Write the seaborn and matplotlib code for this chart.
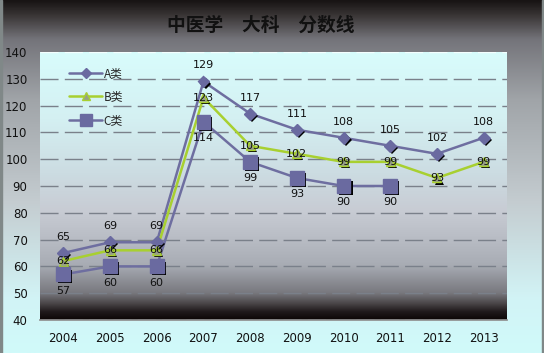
import numpy as np
import pandas as pd
import matplotlib
matplotlib.use("Agg")
import matplotlib.pyplot as plt
import matplotlib.patheffects as pe
from matplotlib.colors import LinearSegmentedColormap
import seaborn as sns

years = ["2004", "2005", "2006", "2007", "2008", "2009", "2010", "2011", "2012", "2013"]
a_vals = [65, 69, 69, 129, 117, 111, 108, 105, 102, 108]
b_vals = [62, 66, 66, 123, 105, 102, 99, 99, 93, 99]
c_vals = [57, 60, 60, 114, 99, 93, 90, 90, np.nan, np.nan]
series_names = ["A类", "B类", "C类"]
title = "中医学　大科　分数线"

sns.set_theme(style="white")
plt.rcParams['font.family'] = ['Noto Sans CJK SC', 'DejaVu Sans']

df = pd.DataFrame({
    "year": years * 3,
    "value": a_vals + b_vals + c_vals,
    "series": [series_names[0]] * 10 + [series_names[1]] * 10 + [series_names[2]] * 10,
})

fig = plt.figure(figsize=(5.44, 3.53), dpi=100)
grad = np.linspace(0, 1, 256).reshape(-1, 1)

# figure background gradient
bg = fig.add_axes([0, 0, 1, 1], zorder=-10)
bg_cmap = LinearSegmentedColormap.from_list("bg", [
    (0.0, "#d0fafa"), (0.15, "#d2f4f6"), (0.43, "#c4ccd0"), (0.72, "#a0a4a8"),
    (0.89, "#74747a"), (0.96, "#383434"), (1.0, "#181414")])
bg.imshow(grad, aspect="auto", cmap=bg_cmap, origin="lower", extent=[0, 1, 0, 1])
bg.set_xlim(0, 1)
bg.set_ylim(0, 1)
bg.set_axis_off()
bg.axvspan(0.0, 0.004, color="#808888")
bg.axvspan(0.996, 1.0, color="#808888")

pos = [40 / 544, 1 - 320 / 353, 467 / 544, 268 / 353]
pa = fig.add_axes(pos, zorder=-5)
pa_cmap = LinearSegmentedColormap.from_list("pa", [
    (0.0, "#0c0606"), (0.03, "#201a1c"), (0.06, "#4a4648"), (0.10, "#78787e"),
    (0.205, "#a8acb4"), (0.30, "#b8bcc4"), (0.41, "#c8ccd4"), (0.55, "#ccdce2"),
    (0.75, "#d4f0f2"), (1.0, "#d8fcfc")])
pa.imshow(grad, aspect="auto", cmap=pa_cmap, origin="lower", extent=[0, 1, 0, 1])
pa.set_xlim(0, 1)
pa.set_ylim(0, 1)
pa.set_axis_off()

ax = fig.add_axes(pos)
ax.set_facecolor("none")

palette = {"A类": "#6e6ea0", "B类": "#a8d030", "C类": "#6e6ea0"}
markers = {"A类": "D", "B类": "^", "C类": "s"}
sizes = {"A类": 6, "B类": 6.5, "C类": 10}
leg_sizes = {"A类": 5, "B类": 6, "C类": 8}
mface = {"A类": "#6a6aa0", "B类": "#98a088", "C类": "#6a6aa0"}
medge = {"A类": "#6a6aa0", "B类": "#a8d030", "C类": "#6a6aa0"}

sns.lineplot(data=df, x="year", y="value", hue="series", palette=palette,
             linewidth=1.8, ax=ax, legend=False, zorder=3)

shadow = [pe.SimplePatchShadow(offset=(1.5, -1.5), shadow_rgbFace="black", alpha=1.0), pe.Normal()]
handles = []
for name, vals in zip(series_names, [a_vals, b_vals, c_vals]):
    line, = ax.plot(years, vals, linestyle="none", marker=markers[name],
                    markersize=sizes[name], color=mface[name],
                    markeredgecolor=medge[name], zorder=4)
    line.set_path_effects(shadow)
    h, = ax.plot([], [], color=palette[name], linewidth=1.8, marker=markers[name],
                 markersize=leg_sizes[name],
                 markerfacecolor=mface[name], markeredgecolor=medge[name], label=name)
    handles.append(h)

for i, (a, b, c) in enumerate(zip(a_vals, b_vals, c_vals)):
    ax.annotate(str(a), (years[i], a), xytext=(0, 8), textcoords="offset points",
                ha="center", va="bottom", fontsize=8, family="DejaVu Sans", color="#111111", zorder=6)
    ax.annotate(str(b), (years[i], b), xytext=(0, 0), textcoords="offset points",
                ha="center", va="center", fontsize=8, family="DejaVu Sans", color="#111111", zorder=6)
    if not np.isnan(c):
        ax.annotate(str(int(c)), (years[i], c), xytext=(0, -8), textcoords="offset points",
                    ha="center", va="top", fontsize=8, family="DejaVu Sans", color="#111111", zorder=6)

ax.set_xlim(-0.5, 9.5)
ax.set_ylim(40, 140)
ax.set_yticks(np.arange(40, 141, 10))
ax.set_yticklabels([str(v) for v in range(40, 141, 10)], fontsize=8.5, family="DejaVu Sans")
ax.set_xticks(range(10))
ax.set_xticklabels(years, fontsize=8.5, family="DejaVu Sans")
ax.set_xticks(np.arange(-0.5, 10, 1), minor=True)
ax.tick_params(axis="x", which="major", length=0, pad=9, colors="#111111")
ax.tick_params(axis="x", which="minor", length=4, color="#808080", direction="out")
ax.tick_params(axis="y", length=5, color="#808080", direction="out", pad=4, colors="#111111")
ax.grid(axis="y", linestyle=(0, (13, 4.5)), color="#7a808a", linewidth=1)
gl = ax.get_ygridlines()
for g in gl:
    g.set_zorder(1)
gl[-1].set_color("#f4ffff")
for side in ["top", "right", "left"]:
    ax.spines[side].set_visible(False)
ax.spines["bottom"].set_color("#909090")
ax.set_xlabel("")
ax.set_ylabel("")

leg = ax.legend(handles=handles, loc="upper left", bbox_to_anchor=(0.04, 0.985), frameon=False,
                fontsize=8.5, labelspacing=0.9, handlelength=2.8, handletextpad=0.1)

fig.text(261 / 544, 1 - 25 / 353, title, ha="center", va="center", fontsize=13.5,
         fontweight="bold", color="#111111")

fig.savefig("out.png", dpi=100)
